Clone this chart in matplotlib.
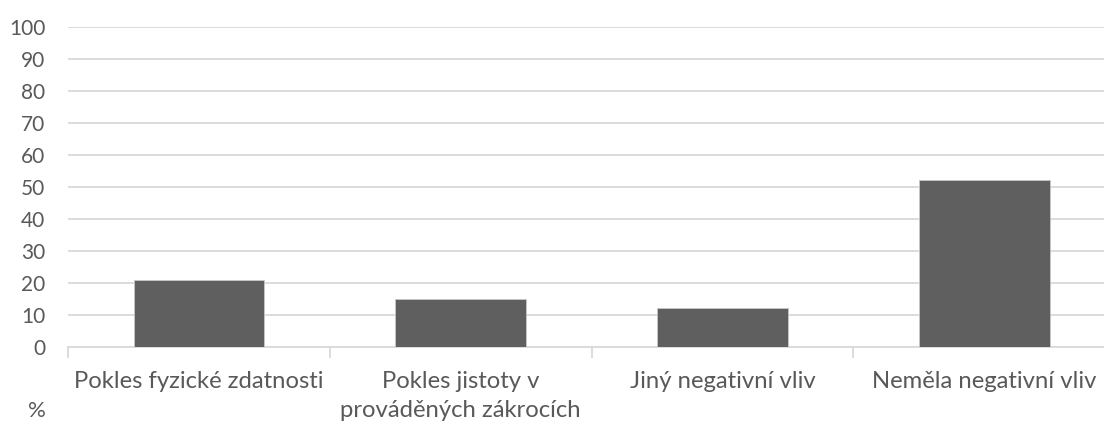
import matplotlib
matplotlib.use("Agg")
import matplotlib.pyplot as plt
import numpy as np

categories = ["Pokles fyzické zdatnosti", "Pokles jistoty v\nprováděných zákrocích",
              "Jiný negativní vliv", "Neměla negativní vliv"]
values = [21, 15, 12, 52]
yticks = list(range(0, 101, 10))

plt.rcParams['font.family'] = ['Lato', 'DejaVu Sans']
text_color = "#595959"
grid_color = "#d9d9d9"
bar_color = "#5f5f5f"

fig = plt.figure(figsize=(11.04, 4.24), dpi=100)
ax = fig.add_axes([68.1 / 1104, (424 - 346.7) / 424, (1115.2 - 68.1) / 1104, 320 / 424])

x = np.arange(len(categories))
ax.bar(x, values, width=0.5, color=bar_color, edgecolor="#c8c8c8", linewidth=0.6, zorder=3)

ax.set_xlim(-0.5, len(categories) - 0.5)
ax.set_ylim(0, 100)
ax.set_yticks(yticks)
ax.set_yticklabels([str(t) for t in yticks])
ax.yaxis.grid(True, color=grid_color, linewidth=1.3, zorder=0)
ax.set_axisbelow(True)

for s in ["top", "right", "left"]:
    ax.spines[s].set_visible(False)
ax.spines["bottom"].set_color(grid_color)
ax.spines["bottom"].set_linewidth(1.3)

ax.tick_params(axis="y", length=0, pad=16.5, labelsize=15, labelcolor=text_color)
ax.set_xticks(x)
ax.set_xticklabels(categories, fontsize=17.2, color=text_color, linespacing=1.45)
ax.tick_params(axis="x", which="major", length=0, pad=17.5)
ax.set_xticks(np.arange(-0.5, len(categories), 1.0), minor=True)
ax.tick_params(axis="x", which="minor", length=8, width=1.3, color=grid_color, direction="out")

fig.text(37 / 1104, 1 - 411 / 424, "%", ha="center", va="center", fontsize=16, color=text_color)

fig.savefig("out.png", dpi=100)
